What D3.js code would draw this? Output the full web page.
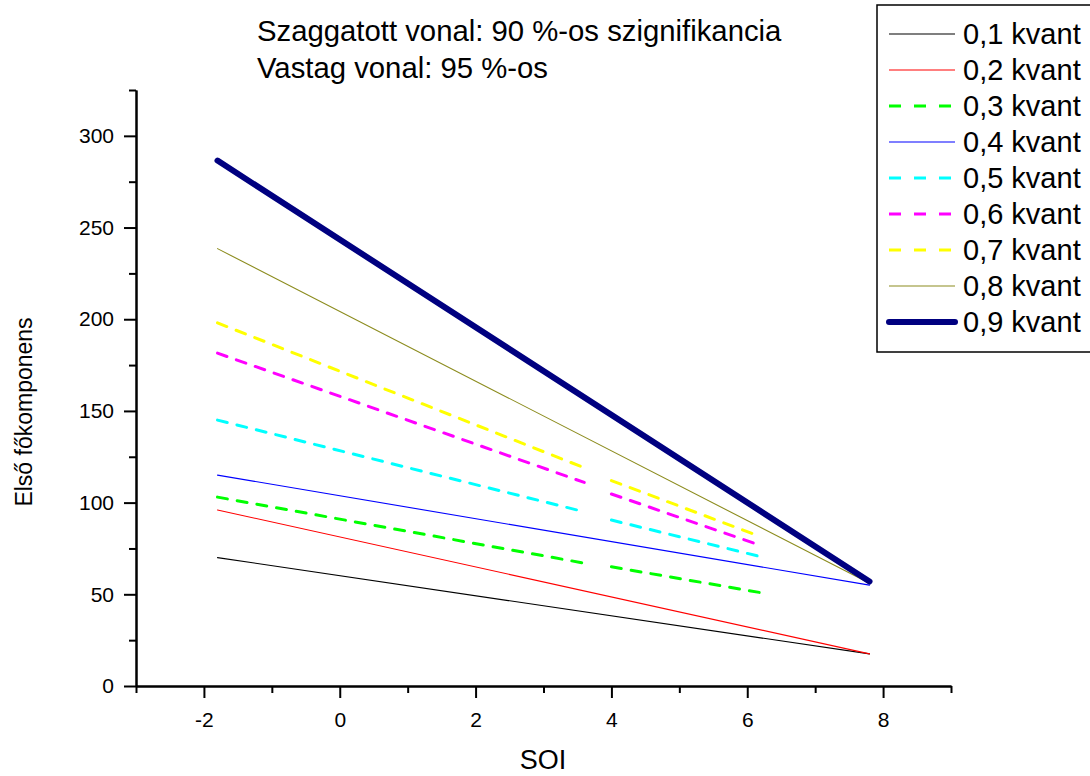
<!DOCTYPE html>
<html>
<head>
<meta charset="utf-8">
<script src="https://cdn.jsdelivr.net/npm/d3@7"></script>
<style>
  body { margin: 0; background: #fff; }
  svg { font-family: "Liberation Sans", Arial, sans-serif; }
</style>
</head>
<body>
<svg id="chart" width="1090" height="776"></svg>
<script>
// quantile regression lines
var labels = ['0,1 kvant', '0,2 kvant', '0,3 kvant', '0,4 kvant', '0,5 kvant',
              '0,6 kvant', '0,7 kvant', '0,8 kvant', '0,9 kvant'];
var colors = ['#000000', '#ff0000', '#00ff00', '#0000ff', '#00ffff',
              '#ff00ff', '#ffff00', '#8c8c1e', '#000080'];
var dashed = [false, false, true, false, true, true, true, false, false];
var thick = [false, false, false, false, false, false, false, false, true];

// solid lines: two end points
var solidSoi = [-1.8, 7.8];
var solidVals = {
  0: [70, 17.5],
  1: [96, 17.5],
  3: [115, 55],
  7: [238.5, 56],
  8: [286.5, 57]
};
// dashed lines: broken between 3.6 and 4.0
var dashSoi = [[-1.8, 3.6], [4.0, 6.2]];
var dashVals = {
  2: [[103, 67], [65, 50.9]],
  4: [[145, 95], [90.5, 70.5]],
  5: [[181.5, 111], [104.7, 76.6]],
  6: [[198, 119], [112, 81.4]]
};

var xMajor = [-2, 0, 2, 4, 6, 8];
var xMinor = [-3, -1, 1, 3, 5, 7, 9];
var yMajor = [0, 50, 100, 150, 200, 250, 300];
var yMinor = [25, 75, 125, 175, 225, 275, 325];

var svg = d3.select('#chart');

var x = d3.scaleLinear().domain([-3, 9]).range([136, 951]);
var y = d3.scaleLinear().domain([0, 325]).range([686, 90]);

var line = d3.line()
  .x(function(d) { return x(d[0]); })
  .y(function(d) { return y(d[1]); });

// axes
function styleAxis(g) {
  g.select('.domain').attr('stroke-width', 2);
  g.selectAll('.tick line').attr('stroke-width', 2);
  g.selectAll('.tick text').attr('font-size', 21).attr('fill', '#000');
}

svg.append('g')
  .attr('transform', 'translate(0,686)')
  .call(d3.axisBottom(x).tickValues(xMinor).tickSize(7).tickSizeOuter(0).tickFormat(''))
  .call(styleAxis);
svg.append('g')
  .attr('transform', 'translate(0,686)')
  .call(d3.axisBottom(x).tickValues(xMajor).tickSize(12).tickSizeOuter(0).tickPadding(14)
    .tickFormat(function(d) { return String(d); }))
  .call(styleAxis);

svg.append('g')
  .attr('transform', 'translate(136,0)')
  .call(d3.axisLeft(y).tickValues(yMinor).tickSize(7).tickSizeOuter(0).tickFormat(''))
  .call(styleAxis);
svg.append('g')
  .attr('transform', 'translate(136,0)')
  .call(d3.axisLeft(y).tickValues(yMajor).tickSize(12).tickSizeOuter(0).tickPadding(10))
  .call(styleAxis);

// lines
var plot = svg.append('g');
labels.forEach(function(lab, i) {
  var segs = [];
  if (dashed[i]) {
    dashSoi.forEach(function(s, k) {
      segs.push([[s[0], dashVals[i][k][0]], [s[1], dashVals[i][k][1]]]);
    });
  } else {
    segs.push([[solidSoi[0], solidVals[i][0]], [solidSoi[1], solidVals[i][1]]]);
  }
  segs.forEach(function(seg) {
    plot.append('path')
      .attr('d', line(seg))
      .attr('fill', 'none')
      .attr('stroke', colors[i])
      .attr('stroke-width', thick[i] ? 6 : (dashed[i] ? 3 : 1.1))
      .attr('stroke-linecap', 'round')
      .attr('stroke-dasharray', dashed[i] ? '10,10' : null);
  });
});

// axis titles
svg.append('text')
  .attr('x', 543).attr('y', 769)
  .attr('text-anchor', 'middle')
  .attr('font-size', 27)
  .text('SOI');
svg.append('text')
  .attr('transform', 'translate(32,412) rotate(-90)')
  .attr('text-anchor', 'middle')
  .attr('font-size', 23)
  .text('Első főkomponens');

// header notes
svg.append('text').attr('x', 257).attr('y', 41).attr('font-size', 29.3)
  .text('Szaggatott vonal: 90 %-os szignifikancia');
svg.append('text').attr('x', 257).attr('y', 78).attr('font-size', 29.3)
  .text('Vastag vonal: 95 %-os');

// legend
var legend = svg.append('g');
legend.append('rect')
  .attr('x', 877).attr('y', 5).attr('width', 230).attr('height', 347)
  .attr('fill', '#fff').attr('stroke', '#000').attr('stroke-width', 1.5);

var row = d3.scaleLinear().domain([0, 8]).range([34, 322]);
labels.forEach(function(lab, i) {
  var yy = row(i);
  legend.append('line')
    .attr('x1', 889).attr('x2', 955)
    .attr('y1', yy).attr('y2', yy)
    .attr('stroke', colors[i])
    .attr('stroke-width', thick[i] ? 6 : (dashed[i] ? 3 : 1.1))
    .attr('stroke-linecap', thick[i] ? 'round' : 'butt')
    .attr('stroke-dasharray', dashed[i] ? '12,13' : null);
  legend.append('text')
    .attr('x', 963).attr('y', yy + 10)
    .attr('font-size', 29)
    .text(lab);
});
</script>
</body>
</html>
